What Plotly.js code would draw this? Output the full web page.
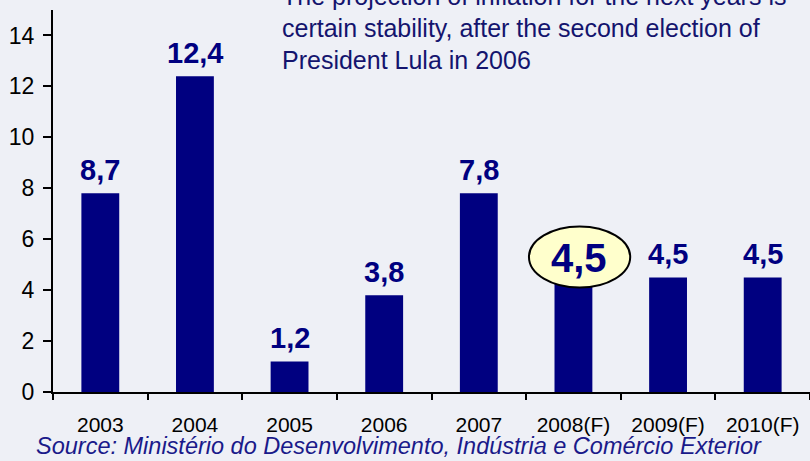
<!DOCTYPE html>
<html>
<head>
<meta charset="utf-8">
<script src="https://cdn.plot.ly/plotly-3.0.1.min.js"></script>
<style>html,body{margin:0;padding:0;background:#eef0f6;}#chart{width:810px;height:461px;}</style>
</head>
<body>
<div id="chart"></div>
<script>
// ---- data ----
const years = ["2003", "2004", "2005", "2006", "2007", "2008(F)", "2009(F)", "2010(F)"];
const barHeights = [7.8, 12.4, 1.2, 3.8, 7.8, 4.5, 4.5, 4.5];
const valueLabels = ["8,7", "12,4", "1,2", "3,8", "7,8", "4,5", "4,5", "4,5"];
const highlightYear = "2008(F)";
const noteLines = [
  "The projection of inflation for the next years is",
  "certain stability, after the second election of",
  "President Lula in 2006"
];
const sourceText = "Source: Ministério do Desenvolvimento, Indústria e Comércio Exterior";

const navy = "#000080";
const FONT = "Arial, Liberation Sans, sans-serif";
const hi = years.indexOf(highlightYear);
const idx = years.map((_, i) => i);

const W = 810, H = 461, mL = 53, mR = 0, mT = 10, mB = 69;
const pw = W - mL - mR, ph = H - mT - mB;

const annotations = [];
idx.forEach(i => {
  if (i === hi) {
    annotations.push({
      x: i + 0.06, y: barHeights[i], xref: "x", yref: "y",
      text: "<b>" + valueLabels[i] + "</b>", showarrow: false,
      yanchor: "middle", yshift: 19,
      font: {family: FONT, size: 40, color: navy}
    });
  } else {
    annotations.push({
      x: i, y: barHeights[i], xref: "x", yref: "y",
      text: "<b>" + valueLabels[i] + "</b>", showarrow: false,
      yanchor: "bottom", yshift: 5,
      font: {family: FONT, size: 29, color: navy}
    });
  }
});
noteLines.forEach((t, k) => {
  const baselinePx = 5 + 32 * k;
  annotations.push({
    x: (280 - mL) / pw, y: (H - mB - (baselinePx + 7)) / ph, xref: "paper", yref: "paper",
    text: t, showarrow: false, xanchor: "left", yanchor: "bottom",
    font: {family: FONT, size: 25, color: "#14146e"}
  });
});
annotations.push({
  x: (34 - mL) / pw, y: (H - mB - 461) / ph, xref: "paper", yref: "paper",
  text: "<i>" + sourceText + "</i>", showarrow: false, xanchor: "left", yanchor: "bottom",
  font: {family: FONT, size: 23.5, color: "#1a1a8a"}
});

const shapes = [{
  type: "circle", xref: "x", yref: "y",
  x0: hi - 0.47, x1: hi + 0.6,
  y0: barHeights[hi] - 0.4, y1: barHeights[hi] + 2.0,
  fillcolor: "#ffffcc", line: {color: "#000000", width: 2}, layer: "above"
}];

const trace = {
  type: "bar", x: idx, y: barHeights, width: 0.4,
  marker: {color: navy, line: {width: 0}},
  hoverinfo: "none"
};

const layout = {
  width: W, height: H,
  margin: {l: mL, r: mR, t: mT, b: mB, pad: 0},
  paper_bgcolor: "#eef0f6", plot_bgcolor: "rgba(0,0,0,0)",
  showlegend: false,
  font: {family: FONT, color: "#000"},
  xaxis: {
    type: "linear", range: [-0.5, 7.5], showgrid: false, zeroline: false,
    showline: true, linecolor: "#000", linewidth: 2,
    tickmode: "array", tickvals: idx, ticktext: years,
    ticks: "", ticklabelstandoff: 13,
    tickfont: {size: 21, color: "#000"}
  },
  xaxis2: {
    overlaying: "x", matching: "x", type: "linear", range: [-0.5, 7.5],
    anchor: "y", side: "bottom", showgrid: false, zeroline: false, showline: false,
    tickmode: "array", tickvals: idx.map(i => i - 0.5).concat([idx.length - 0.5]),
    ticktext: idx.map(() => "").concat([""]),
    ticks: "outside", ticklen: 7, tickwidth: 2, tickcolor: "#000", showticklabels: false
  },
  yaxis: {
    range: [0, 15], dtick: 2, tick0: 0, showgrid: false, zeroline: false,
    showline: true, linecolor: "#000", linewidth: 2,
    ticks: "outside", ticklen: 8, tickwidth: 2, tickcolor: "#000",
    ticklabelstandoff: 4,
    tickfont: {size: 23, color: "#000"}
  },
  annotations: annotations,
  shapes: shapes
};

const ghost = {type: "scatter", x: [0], y: [0], xaxis: "x2", yaxis: "y", mode: "markers",
  marker: {opacity: 0}, hoverinfo: "none"};

Plotly.newPlot("chart", [trace, ghost], layout, {staticPlot: true, displayModeBar: false});
</script>
</body>
</html>
